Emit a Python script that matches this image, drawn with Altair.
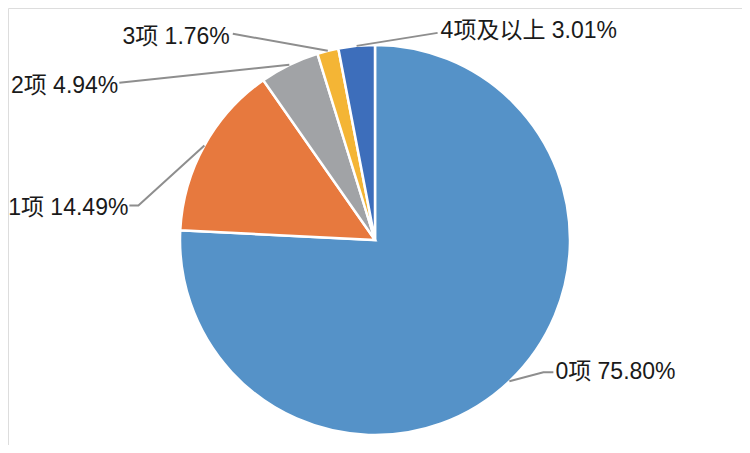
import math
import altair as alt
import pandas as pd

# ---------------- data ----------------
categories = ["0项", "1项", "2项", "3项", "4项及以上"]
shares = [75.80, 14.49, 4.94, 1.76, 3.01]
label_texts = ["0项 75.80%", "1项 14.49%", "2项 4.94%", "3项 1.76%", "4项及以上 3.01%"]
colors = ["#5592C8", "#E7793E", "#A1A3A6", "#F4B535", "#3D6EBB"]

# ---------------- layout (pixels, chart coordinates) ----------------
CX, CY, R = 367, 232, 195
FONT = "Liberation Sans, Arimo, Noto Sans CJK SC, sans-serif"
# per label: bend offset from slice edge point, horizontal tail, text side, text offset from line end
leader_layout = {
    "0项": dict(bend=(34, -9), tail=10, align="left", tdx=2, tdy=0),
    "1项": dict(bend=(-66, 60), tail=-9, align="right", tdx=-1, tdy=2),
    "2项": dict(bend=(-170, 18), tail=0, align="right", tdx=-1, tdy=3),
    "3项": dict(bend=(-95, -17), tail=0, align="right", tdx=-3, tdy=3),
    "4项及以上": dict(bend=(81, -13), tail=0, align="left", tdx=3, tdy=-2),
}

pie_df = pd.DataFrame({"cat": categories, "share": shares, "idx": range(len(categories))})

total = sum(shares)
line_rows, text_rows = [], []
cum = 0.0
for cat, s, lab in zip(categories, shares, label_texts):
    mid = (cum + s / 2) / total * 2 * math.pi
    cum += s
    sx, sy = CX + R * math.sin(mid), CY - R * math.cos(mid)
    lay = leader_layout[cat]
    bx, by = sx + lay["bend"][0], sy + lay["bend"][1]
    ex, ey = bx + lay["tail"], by
    for i, (px, py) in enumerate([(sx, sy), (bx, by), (ex, ey)]):
        line_rows.append({"cat": cat, "step": i, "x": px, "y": py})
    text_rows.append({"cat": cat, "label": lab, "x": ex + lay["tdx"], "y": ey + lay["tdy"],
                      "align": lay["align"]})

line_df = pd.DataFrame(line_rows)
text_df = pd.DataFrame(text_rows)

pie = alt.Chart(pie_df).mark_arc(radius=R, stroke="white", strokeWidth=2.5).encode(
    theta=alt.Theta("share:Q", stack=True),
    order=alt.Order("idx:Q"),
    color=alt.Color("cat:N", scale=alt.Scale(domain=categories, range=colors), legend=None),
    x=alt.value(CX),
    y=alt.value(CY),
)

leaders = alt.Chart(line_df).mark_line(color="#8E8E8E", strokeWidth=2).encode(
    x=alt.X("x:Q", scale=None, axis=None),
    y=alt.Y("y:Q", scale=None, axis=None),
    detail="cat:N",
    order="step:Q",
)

def text_layer(side):
    return alt.Chart(text_df[text_df["align"] == side]).mark_text(
        align=side, baseline="middle", fontSize=23, font=FONT, color="#1A1A1A"
    ).encode(
        x=alt.X("x:Q", scale=None, axis=None),
        y=alt.Y("y:Q", scale=None, axis=None),
        text="label:N",
    )

chart = (
    alt.layer(pie, leaders, text_layer("left"), text_layer("right"))
    .properties(width=734, height=437, padding=0, autosize=alt.AutoSizeParams(type="none"))
    .configure_view(stroke="white", strokeWidth=0, strokeOpacity=0)
    .configure_axis(domain=False, ticks=False, labels=False, grid=False)
    .configure(background="white")
)

chart.save("out.html", embed_options={"renderer": "svg", "actions": False})
